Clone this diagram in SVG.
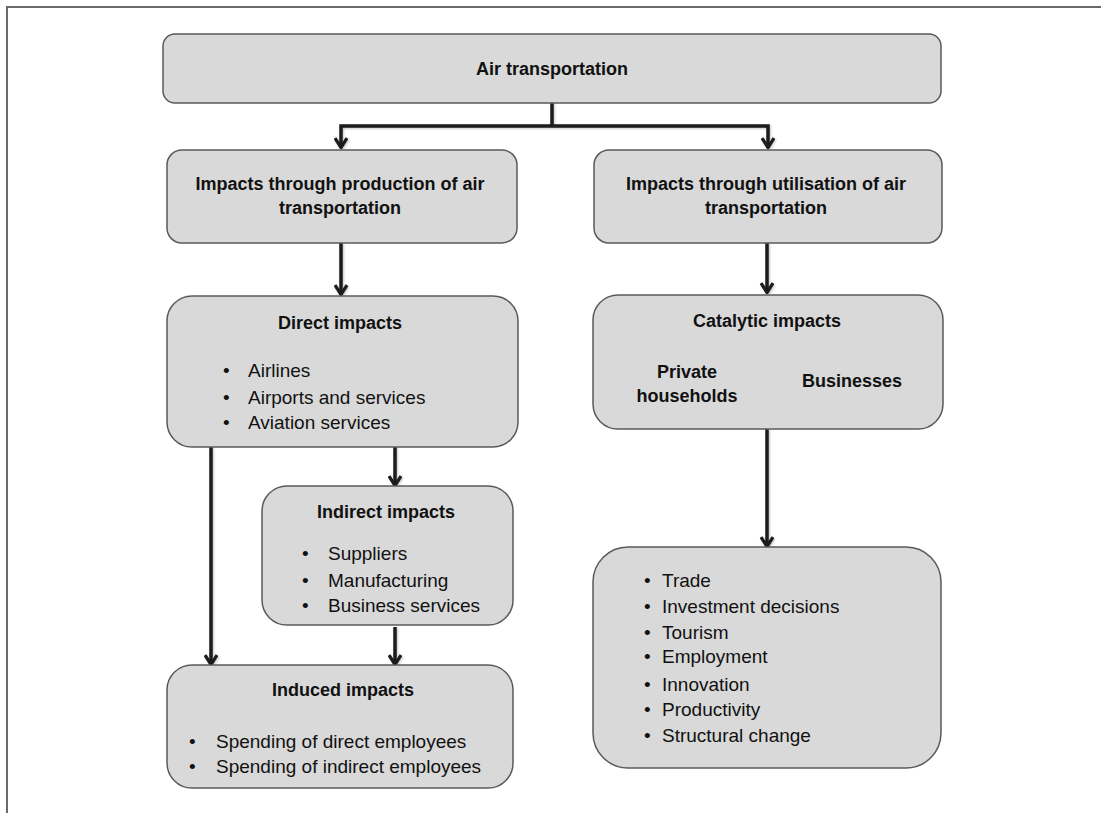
<svg xmlns="http://www.w3.org/2000/svg" width="1101" height="813" viewBox="0 0 1101 813">
<defs>
<style>
.box{fill:#d9d9d9;stroke:#5a5a5a;stroke-width:1.5}
.t{font-family:"Liberation Sans",Arial,sans-serif;font-size:19px;fill:#111}
.b{font-size:18px;font-weight:bold;text-anchor:middle}
.c{fill:none;stroke:#1a1a1a;stroke-width:3.5}
.frame{fill:none;stroke:#6a6a6a;stroke-width:2}
</style>
<marker id="ah" markerUnits="userSpaceOnUse" viewBox="0 0 12 14" refX="11" refY="7" markerWidth="12" markerHeight="14" orient="auto">
<path d="M1,1 L10.5,7 L1,13" fill="none" stroke="#1a1a1a" stroke-width="3.2"/>
</marker>
<filter id="sh" x="-20%" y="-20%" width="140%" height="140%">
<feDropShadow dx="1" dy="1" stdDeviation="1" flood-color="#000" flood-opacity="0.25"/>
</filter>
</defs>
<rect width="1101" height="813" fill="#fff"/>
<path class="frame" d="M7,813 V7 H1101"/>

<g id="connectors" filter="url(#sh)">
<path class="c" d="M552,103 V126"/>
<path class="c" d="M552,126 H341 V148" marker-end="url(#ah)"/>
<path class="c" d="M552,126 H768 V148" marker-end="url(#ah)"/>
<path class="c" d="M341,243 V295" marker-end="url(#ah)"/>
<path class="c" d="M767,243 V293" marker-end="url(#ah)"/>
<path class="c" d="M211,447 V665" marker-end="url(#ah)"/>
<path class="c" d="M395,447 V486" marker-end="url(#ah)"/>
<path class="c" d="M395,627 V665" marker-end="url(#ah)"/>
<path class="c" d="M767,429 V547" marker-end="url(#ah)"/>
</g>

<g id="air-transportation">
<rect class="box" x="163" y="34" width="778" height="69" rx="12"/>
<text class="t b" x="552" y="75">Air transportation</text>
</g>

<g id="production">
<rect class="box" x="167" y="150" width="350" height="93" rx="15"/>
<text class="t b" x="340" y="190">Impacts through production of air</text>
<text class="t b" x="340" y="214">transportation</text>
</g>

<g id="utilisation">
<rect class="box" x="594" y="150" width="348" height="93" rx="15"/>
<text class="t b" x="766" y="190">Impacts through utilisation of air</text>
<text class="t b" x="766" y="214">transportation</text>
</g>

<g id="direct">
<rect class="box" x="167" y="296" width="351" height="151" rx="25"/>
<text class="t b" x="340" y="329">Direct impacts</text>
<text class="t" x="223" y="377">•</text><text class="t" x="248" y="377">Airlines</text>
<text class="t" x="223" y="404">•</text><text class="t" x="248" y="404">Airports and services</text>
<text class="t" x="223" y="429">•</text><text class="t" x="248" y="429">Aviation services</text>
</g>

<g id="catalytic">
<rect class="box" x="593" y="295" width="350" height="134" rx="25"/>
<text class="t b" x="767" y="327">Catalytic impacts</text>
<text class="t b" x="687" y="378">Private</text>
<text class="t b" x="687" y="402">households</text>
<text class="t b" x="852" y="387">Businesses</text>
</g>

<g id="indirect">
<rect class="box" x="262" y="486" width="251" height="139" rx="25"/>
<text class="t b" x="386" y="518">Indirect impacts</text>
<text class="t" x="302" y="560">•</text><text class="t" x="328" y="560">Suppliers</text>
<text class="t" x="302" y="587">•</text><text class="t" x="328" y="587">Manufacturing</text>
<text class="t" x="302" y="612">•</text><text class="t" x="328" y="612">Business services</text>
</g>

<g id="induced">
<rect class="box" x="167" y="665" width="346" height="123" rx="25"/>
<text class="t b" x="343" y="696">Induced impacts</text>
<text class="t" x="189" y="748">•</text><text class="t" x="216" y="748">Spending of direct employees</text>
<text class="t" x="189" y="773">•</text><text class="t" x="216" y="773">Spending of indirect employees</text>
</g>

<g id="catalytic-effects">
<rect class="box" x="593" y="547" width="348" height="221" rx="35"/>
<text class="t" x="644" y="587">•</text><text class="t" x="662" y="587">Trade</text>
<text class="t" x="644" y="613">•</text><text class="t" x="662" y="613">Investment decisions</text>
<text class="t" x="644" y="639">•</text><text class="t" x="662" y="639">Tourism</text>
<text class="t" x="644" y="663">•</text><text class="t" x="662" y="663">Employment</text>
<text class="t" x="644" y="691">•</text><text class="t" x="662" y="691">Innovation</text>
<text class="t" x="644" y="716">•</text><text class="t" x="662" y="716">Productivity</text>
<text class="t" x="644" y="742">•</text><text class="t" x="662" y="742">Structural change</text>
</g>
</svg>
